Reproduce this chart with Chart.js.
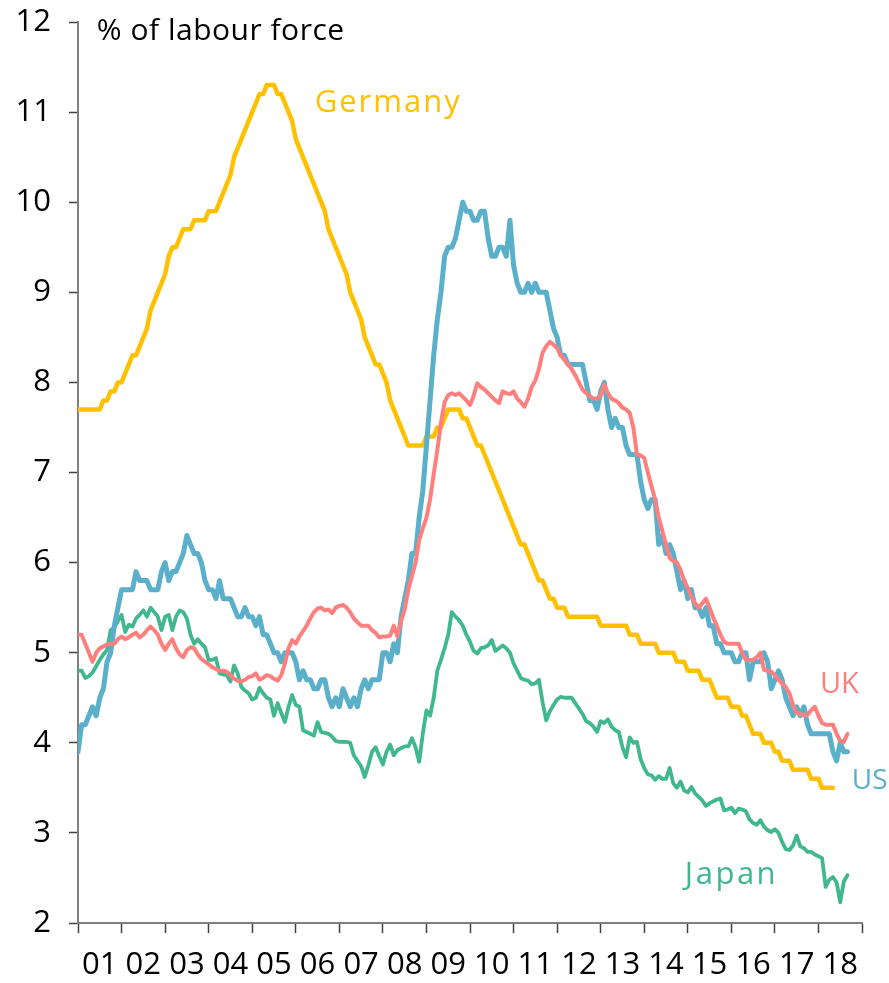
<!DOCTYPE html>
<html>
<head>
<meta charset="utf-8">
<script src="https://cdn.jsdelivr.net/npm/chart.js@4.4.1/dist/chart.umd.min.js"></script>
<style>
  html, body { margin: 0; padding: 0; background: #fff; }
  #wrap { width: 889px; height: 983px; }
</style>
</head>
<body>
<div id="wrap"><canvas id="myChart" width="889" height="983"></canvas></div>
<script>
// monthly, index 0 = Dec 2000
const yearLabels = ['01','02','03','04','05','06','07','08','09','10','11','12','13','14','15','16','17','18'];

const germany = [7.7,7.7,7.7,7.7,7.7,7.7,7.7,7.8,7.8,7.9,7.9,8.0,8.0,8.1,8.2,8.3,8.3,8.4,8.5,8.6,
  8.8,8.9,9.0,9.1,9.2,9.4,9.5,9.5,9.6,9.7,9.7,9.7,9.8,9.8,9.8,9.8,9.9,9.9,9.9,10.0,
  10.1,10.2,10.3,10.5,10.6,10.7,10.8,10.9,11.0,11.1,11.2,11.2,11.3,11.3,11.3,11.2,11.2,11.1,11.0,10.9,
  10.7,10.6,10.5,10.4,10.3,10.2,10.1,10.0,9.9,9.7,9.6,9.5,9.4,9.3,9.2,9.0,8.9,8.8,8.7,8.5,
  8.4,8.3,8.2,8.2,8.1,8.0,7.8,7.7,7.6,7.5,7.4,7.3,7.3,7.3,7.3,7.3,7.4,7.4,7.4,7.5,
  7.5,7.6,7.7,7.7,7.7,7.7,7.6,7.6,7.5,7.4,7.3,7.3,7.2,7.1,7.0,6.9,6.8,6.7,6.6,6.5,
  6.4,6.3,6.2,6.2,6.1,6.0,5.9,5.8,5.8,5.7,5.6,5.6,5.5,5.5,5.5,5.4,5.4,5.4,5.4,5.4,
  5.4,5.4,5.4,5.4,5.3,5.3,5.3,5.3,5.3,5.3,5.3,5.3,5.2,5.2,5.2,5.1,5.1,5.1,5.1,5.1,
  5.0,5.0,5.0,5.0,5.0,4.9,4.9,4.9,4.8,4.8,4.8,4.8,4.7,4.7,4.7,4.6,4.5,4.5,4.5,4.5,
  4.4,4.4,4.4,4.3,4.3,4.2,4.1,4.1,4.1,4.0,4.0,4.0,3.9,3.9,3.8,3.8,3.8,3.7,3.7,3.7,
  3.7,3.7,3.6,3.6,3.6,3.5,3.5,3.5,3.5];

const us = [3.9,
  4.2,4.2,4.3,4.4,4.3,4.5,4.6,4.9,5.0,5.3,5.5,5.7,
  5.7,5.7,5.7,5.9,5.8,5.8,5.8,5.7,5.7,5.7,5.9,6.0,
  5.8,5.9,5.9,6.0,6.1,6.3,6.2,6.1,6.1,6.0,5.8,5.7,
  5.7,5.6,5.8,5.6,5.6,5.6,5.5,5.4,5.4,5.5,5.4,5.4,
  5.3,5.4,5.2,5.2,5.1,5.0,5.0,4.9,5.0,5.0,5.0,4.9,
  4.7,4.8,4.7,4.7,4.6,4.6,4.7,4.7,4.5,4.4,4.5,4.4,
  4.6,4.5,4.4,4.5,4.4,4.6,4.7,4.6,4.7,4.7,4.7,5.0,
  5.0,4.9,5.1,5.0,5.4,5.6,5.8,6.1,6.1,6.5,6.8,7.3,
  7.8,8.3,8.7,9.0,9.4,9.5,9.5,9.6,9.8,10.0,9.9,9.9,
  9.8,9.8,9.9,9.9,9.6,9.4,9.4,9.5,9.5,9.4,9.8,9.3,
  9.1,9.0,9.0,9.1,9.0,9.1,9.0,9.0,9.0,8.8,8.6,8.5,
  8.3,8.3,8.2,8.2,8.2,8.2,8.2,8.0,7.8,7.8,7.7,7.9,
  8.0,7.7,7.5,7.6,7.5,7.5,7.3,7.2,7.2,7.2,6.9,6.7,
  6.6,6.7,6.7,6.2,6.3,6.1,6.2,6.1,5.9,5.7,5.8,5.6,
  5.7,5.5,5.5,5.4,5.5,5.3,5.3,5.1,5.1,5.0,5.0,5.0,
  4.9,4.9,5.0,5.0,4.7,4.9,4.9,4.9,5.0,4.9,4.6,4.7,
  4.8,4.7,4.5,4.4,4.3,4.4,4.3,4.4,4.2,4.1,4.1,4.1,
  4.1,4.1,4.1,3.9,3.8,4.0,3.9,3.9];

const uk = [5.2,5.2,5.1,5.0,4.9,5.0,5.05,5.07,5.09,5.1,5.1,5.15,5.18,5.15,5.17,5.2,5.22,5.17,5.2,5.25,
  5.29,5.25,5.2,5.1,5.03,5.1,5.15,5.05,4.98,4.95,5.03,5.06,5.05,4.98,4.93,4.9,4.87,4.84,4.82,4.8,
  4.8,4.79,4.75,4.71,4.69,4.68,4.7,4.73,4.74,4.77,4.7,4.72,4.75,4.74,4.71,4.69,4.75,4.88,5.05,5.14,
  5.1,5.18,5.24,5.3,5.38,5.45,5.49,5.5,5.47,5.48,5.44,5.5,5.52,5.53,5.5,5.45,5.38,5.34,5.3,5.3,
  5.3,5.25,5.22,5.17,5.18,5.18,5.19,5.3,5.18,5.35,5.48,5.7,5.85,6.0,6.25,6.38,6.5,6.7,6.98,7.25,
  7.55,7.78,7.86,7.88,7.86,7.88,7.84,7.8,7.75,7.85,7.99,7.95,7.92,7.88,7.84,7.8,7.77,7.9,7.88,7.87,
  7.9,7.82,7.78,7.73,7.82,7.95,8.02,8.15,8.33,8.4,8.45,8.42,8.38,8.3,8.25,8.2,8.15,8.08,8.0,7.92,
  7.88,7.85,7.82,7.82,7.85,7.98,7.88,7.82,7.8,7.77,7.72,7.7,7.66,7.5,7.2,7.19,7.16,7.0,6.85,6.7,
  6.5,6.35,6.2,6.05,6.02,6.0,5.92,5.8,5.72,5.62,5.55,5.5,5.55,5.6,5.5,5.39,5.3,5.2,5.12,5.1,
  5.1,5.1,5.1,5.0,4.92,4.92,4.92,4.95,5.0,4.81,4.8,4.79,4.75,4.7,4.66,4.62,4.55,4.42,4.33,4.32,
  4.31,4.31,4.36,4.4,4.3,4.22,4.2,4.2,4.2,4.1,4.02,4.01,4.1];

const japan = [4.8,4.8,4.72,4.74,4.78,4.85,4.92,4.98,5.03,5.25,5.28,5.35,5.42,5.23,5.31,5.29,5.38,5.42,5.47,5.4,
  5.5,5.45,5.4,5.25,5.4,5.42,5.25,5.4,5.47,5.45,5.38,5.2,5.1,5.15,5.1,5.06,4.92,4.92,4.94,4.77,
  4.76,4.75,4.68,4.86,4.77,4.62,4.58,4.55,4.48,4.5,4.61,4.55,4.5,4.48,4.3,4.44,4.33,4.23,4.4,4.53,
  4.42,4.4,4.14,4.12,4.1,4.08,4.23,4.12,4.11,4.1,4.07,4.02,4.01,4.01,4.01,4.0,3.86,3.8,3.74,3.62,
  3.75,3.9,3.95,3.85,3.76,3.9,3.98,3.86,3.92,3.94,3.96,3.96,4.05,3.95,3.79,4.1,4.36,4.3,4.5,4.8,
  4.92,5.05,5.2,5.45,5.4,5.36,5.3,5.2,5.12,5.02,4.99,5.05,5.06,5.08,5.14,5.02,5.05,5.08,5.05,5.0,
  4.88,4.8,4.72,4.7,4.69,4.65,4.66,4.7,4.45,4.25,4.35,4.42,4.48,4.51,4.5,4.5,4.5,4.44,4.38,4.32,
  4.24,4.22,4.18,4.12,4.24,4.22,4.26,4.18,4.14,4.12,3.95,3.84,4.06,4.0,4.01,3.82,3.72,3.65,3.64,3.59,
  3.63,3.6,3.6,3.72,3.55,3.5,3.57,3.47,3.45,3.51,3.44,3.4,3.36,3.3,3.33,3.35,3.37,3.38,3.25,3.26,
  3.28,3.22,3.27,3.26,3.24,3.15,3.11,3.09,3.14,3.07,3.03,3.01,3.04,3.0,2.9,2.82,2.81,2.86,2.97,2.85,
  2.83,2.79,2.79,2.76,2.74,2.72,2.4,2.48,2.51,2.45,2.23,2.46,2.53];

// text labels, placed in data units (month index, %)
const notes = [
  { text: '% of labour force', x: 5.2, y: 11.9, color: '#000000' },
  { text: 'Germany', x: 65.2, y: 11.1, color: '#FFC000' },
  { text: 'UK', x: 204.4, y: 4.64, color: '#FF7F7F' },
  { text: 'US', x: 213.2, y: 3.58, color: '#5AAFCB' },
  { text: 'Japan', x: 167.2, y: 2.53, color: '#41B78D' }
];

const FONT = "'Open Sans', 'DejaVu Sans', sans-serif";

function pts(arr){
    return arr.map(function(v, i){ return { x: i, y: v }; });
}

// font and letter spacing per note (by order in notes)
const noteStyle = [
    { size: 30, spacing: 0.5 },
    { size: 31, spacing: 2 },
    { size: 29, spacing: 0 },
    { size: 28, spacing: 0 },
    { size: 31, spacing: 2.5 }
];

const notesPlugin = {
    id: 'notes',
    afterDatasetsDraw(chart){
        const ctx = chart.ctx;
        const xs = chart.scales.x, ys = chart.scales.y;
        ctx.save();
        ctx.textAlign = 'left';
        ctx.textBaseline = 'middle';
        notes.forEach(function(n, i){
            ctx.font = noteStyle[i].size + 'px ' + FONT;
            ctx.letterSpacing = noteStyle[i].spacing + 'px';
            ctx.fillStyle = n.color;
            ctx.fillText(n.text, xs.getPixelForValue(n.x), ys.getPixelForValue(n.y));
        });
        ctx.restore();
    }
};

function chartIt(){
    const ctx = document.getElementById('myChart');
    new Chart(ctx, {
        type: 'line',
        data: {
            datasets: [{
                label: 'UK',
                data: pts(uk),
                borderColor: '#FF7F7F',
                borderWidth: 4,
                order: 1
            },{
                label: 'US',
                data: pts(us),
                borderColor: '#5AAFCB',
                borderWidth: 5,
                order: 2
            },{
                label: 'Japan',
                data: pts(japan),
                borderColor: '#41B78D',
                borderWidth: 3.8,
                order: 3
            },{
                label: 'Germany',
                data: pts(germany),
                borderColor: '#FFC000',
                borderWidth: 4.5,
                order: 4
            }]
        },
        options: {
            responsive: false,
            animation: false,
            events: [],
            elements: {
                point: { radius: 0 },
                line: { tension: 0, borderJoinStyle: 'round', borderCapStyle: 'round', fill: false }
            },
            layout: { padding: { top: 22, right: 27, left: 0, bottom: 0 } },
            plugins: { legend: { display: false }, tooltip: { enabled: false } },
            scales: {
                x: {
                    type: 'linear',
                    min: 0,
                    max: 216,
                    afterFit: function(s){ s.height = 60; s.paddingLeft = 0; s.paddingRight = 0; },
                    border: { display: true, color: '#808080', width: 2 },
                    grid: {
                        drawOnChartArea: false,
                        drawTicks: true,
                        tickLength: 10,
                        tickWidth: 1.5,
                        color: function(c){ return (c.tick && c.tick.value % 12 === 0) ? '#404040' : 'rgba(0,0,0,0)'; }
                    },
                    ticks: {
                        stepSize: 6,
                        autoSkip: false,
                        maxRotation: 0,
                        padding: 14,
                        color: '#000',
                        font: { family: FONT, size: 31 },
                        callback: function(value){
                            if (value % 12 !== 6) return '';
                            return yearLabels[(value - 6) / 12];
                        }
                    }
                },
                y: {
                    min: 2,
                    max: 12,
                    afterFit: function(s){ s.width = 78; s.paddingTop = 0; s.paddingBottom = 0; },
                    border: { display: true, color: '#808080', width: 2 },
                    grid: {
                        drawOnChartArea: false,
                        drawTicks: true,
                        tickLength: 9,
                        tickWidth: 1.5,
                        color: '#404040'
                    },
                    ticks: {
                        stepSize: 1,
                        padding: 18,
                        color: '#000',
                        font: { family: FONT, size: 31 }
                    }
                }
            }
        },
        plugins: [notesPlugin]
    });
}

chartIt();
</script>
</body>
</html>
